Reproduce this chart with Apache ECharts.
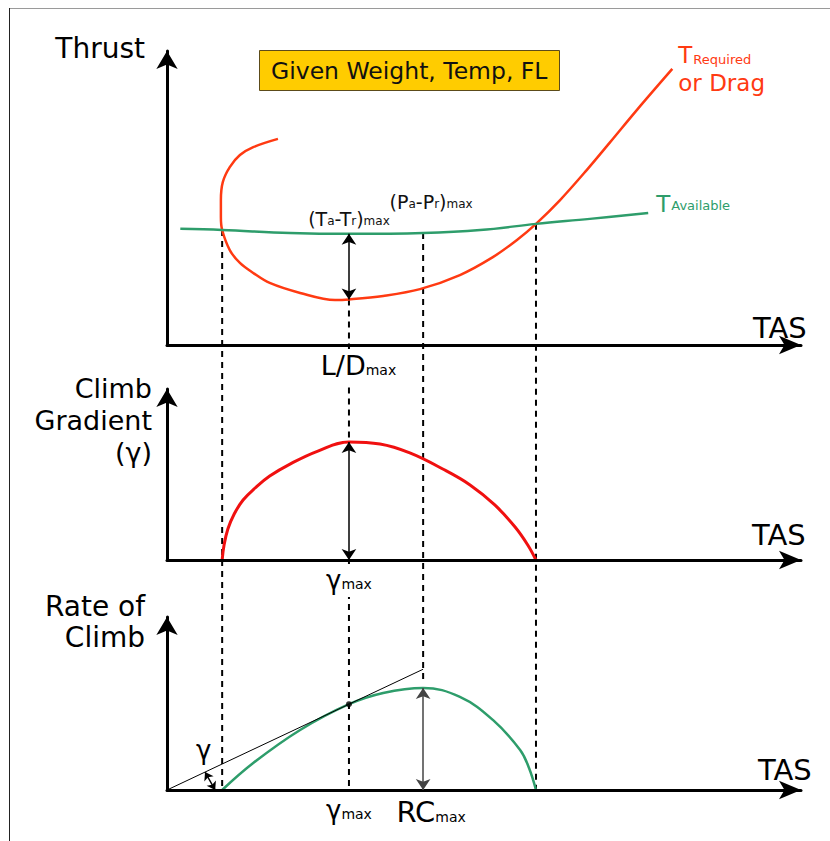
<!DOCTYPE html>
<html>
<head>
<meta charset="utf-8">
<script src="https://cdn.jsdelivr.net/npm/echarts@6/dist/echarts.min.js"></script>
<style>
  html, body { margin: 0; padding: 0; background: #fff; }
  #chart { width: 830px; height: 841px; }
</style>
</head>
<body>
<div id="chart"></div>
<script>
// TAS runs 0-100 across every panel, each panel's y runs 0-100

// panel 1: thrust
const thrustRequired = [
  [17.5, 70.1], [13.6, 67.3], [11.5, 64.6], [9.9, 60.5], [8.8, 55.4], [8.5, 49.3],
  [8.5, 43.5], [8.7, 39.1], [9.9, 32.3], [11.5, 27.9], [13.6, 24.5], [16.2, 21.1],
  [21.0, 17.7], [26.5, 15.3], [28.7, 15.5], [34.1, 16.7], [39.9, 19.0], [46.2, 23.8],
  [51.4, 29.9], [55.2, 35.7], [58.2, 41.2], [62.0, 49.3], [66.2, 59.5], [69.9, 69.0],
  [74.1, 79.9], [79.7, 93.9]
]
const thrustAvailable = [
  [2.1, 39.5], [8.7, 39.1], [19.4, 38.1], [28.7, 37.8], [40.4, 38.1],
  [49.4, 39.1], [58.2, 41.2], [66.7, 42.9], [75.9, 44.9]
]
const arrowTaTr = [[28.7, 37.8], [28.7, 15.5]]

// panel 2: climb gradient
const climbGradient = [
  [8.7, 0], [9.0, 8.8], [9.6, 18.1], [10.6, 26.9], [12.0, 35.1], [13.9, 42.1],
  [16.2, 49.1], [19.4, 56.1], [23.8, 63.7], [28.7, 69.0], [33.6, 67.8], [38.3, 62.6],
  [43.5, 53.2], [47.8, 43.9], [51.7, 32.2], [54.9, 19.3], [56.9, 8.8], [58.2, 0]
]
const arrowGammaMax = [[28.7, 69.0], [28.7, 0]]

// panel 3: rate of climb
const rateOfClimb = [
  [8.7, 0], [13.6, 15.6], [21.0, 34.7], [28.7, 49.6], [34.1, 56.1], [40.4, 59.0],
  [46.2, 53.8], [51.4, 40.5], [55.7, 23.1], [57.1, 12.7], [58.2, 0]
]
const tangentLine = [[0, 0], [40.4, 69.8]]
const tangentPoint = [[28.7, 49.6]]
const arrowRCmax = [[40.4, 59.0], [40.4, 0]]
const gammaArc = [[6.0, 10.4], [7.6, 0]]
const gammaLabelAt = [5.8, 20.2]

// tick labels under the TAS axes
const ticksTop = [28.7]
const ticksMid = [28.7]
const ticksBottom = [28.7, 40.4]
const tickText = {
  top: ['{ld|L/D}{s|max}'],
  mid: ['{g|γ}{s|max}'],
  bottom: ['{g|γ}{s|max}', '{rc|RC}{s|max}']
}

// dashed guides: x, [panel, y] from, [panel, y] to
const guideX = [8.7, 28.7, 28.7, 40.4, 58.2]
const guideFrom = [[0, 39.1], [0, 15.5], [1, 0], [0, 38.1], [0, 41.2]]
const guideTo = [[2, 0], [1, 69.0], [2, 0], [2, 63.6], [2, 0]]

const FONT = 'DejaVu Sans'
const RED = '#ff3a12'
const RED2 = '#f01010'
const GREEN = '#2e9d6b'

const chart = echarts.init(document.getElementById('chart'), null, { renderer: 'svg' })

const subRich = {
  s: { fontSize: 14, verticalAlign: 'bottom', padding: [0, 0, 2, 0], color: '#000' },
  ld: { fontSize: 27, padding: [0, 0, 0, 19], color: '#000' },
  g: { fontSize: 26, color: '#000' },
  rc: { fontSize: 29, padding: [0, 0, 0, 16], color: '#000' }
}

function makeX(i, ticks, texts, nameGap, namePad, margin) {
  return {
    type: 'value', gridIndex: i, min: 0, max: 100, z: 3,
    name: 'TAS', nameLocation: 'end', nameGap: nameGap,
    nameTextStyle: { fontSize: 29, color: '#000', align: 'left', verticalAlign: 'bottom', padding: [0, 0, namePad, 0] },
    axisLine: { show: true, onZero: false, symbol: ['none', 'arrow'], symbolSize: [14, 22], lineStyle: { color: '#000', width: 3 } },
    axisTick: { show: false },
    splitLine: { show: false },
    axisLabel: {
      show: true, customValues: ticks, margin: margin,
      formatter: v => texts[ticks.indexOf(v)] || '',
      backgroundColor: '#fff', padding: [3, 0, 4, 0],
      rich: subRich
    }
  }
}

function makeY(i, name, size, lineHeight, nameGap, padRight) {
  return {
    type: 'value', gridIndex: i, min: 0, max: 100, z: 3,
    name: name, nameLocation: 'end', nameGap: nameGap,
    nameTextStyle: { fontSize: size, lineHeight: lineHeight, color: '#000', align: 'right', verticalAlign: 'middle', padding: [0, padRight, 0, 0] },
    axisLine: { show: true, onZero: false, symbol: ['none', 'arrow'], symbolSize: [16, 18], lineStyle: { color: '#000', width: 3 } },
    axisTick: { show: false },
    axisLabel: { show: false },
    splitLine: { show: false }
  }
}

function arrowLine(pts, color, width, size, curveness) {
  return {
    silent: true, animation: false,
    symbol: ['arrow', 'arrow'], symbolSize: size,
    label: { show: false },
    lineStyle: { color: color, width: width, type: 'solid', curveness: curveness || 0 },
    emphasis: { disabled: true },
    data: [[{ coord: pts[0] }, { coord: pts[1] }]]
  }
}

const option = {
  animation: false,
  backgroundColor: '#fff',
  textStyle: { fontFamily: FONT },
  title: {
    text: 'Given Weight, Temp, FL',
    left: 259, top: 50,
    padding: [8, 12],
    backgroundColor: '#ffcc00',
    borderColor: '#5c4b1a', borderWidth: 1,
    textStyle: { fontFamily: FONT, fontSize: 23.5, fontWeight: 'normal', color: '#111', lineHeight: 25 }
  },
  graphic: [
    { type: 'line', silent: true, shape: { x1: 9, y1: 8.5, x2: 830, y2: 8.5 }, style: { stroke: '#9a9a9a', lineWidth: 1 } },
    { type: 'line', silent: true, shape: { x1: 9.5, y1: 8, x2: 9.5, y2: 841 }, style: { stroke: '#222', lineWidth: 1 } }
  ],
  grid: [
    { left: 167, top: 51, width: 634, height: 294, outerBoundsMode: 'none' },
    { left: 167, top: 389, width: 634, height: 171, outerBoundsMode: 'none' },
    { left: 167, top: 617, width: 634, height: 173, outerBoundsMode: 'none' }
  ],
  xAxis: [
    makeX(0, ticksTop, tickText.top, -48, 3, 4),
    makeX(1, ticksMid, tickText.mid, -49, 11, 4),
    makeX(2, ticksBottom, tickText.bottom, -43, 6, 4)
  ],
  yAxis: [
    makeY(0, 'Thrust', 28, 32, 3, 22),
    makeY(1, 'Climb\nGradient\n(γ)', 27, 32, -31, 15),
    makeY(2, 'Rate of\nClimb', 28, 31, -5, 22)
  ],
  series: [
    {
      name: 'T Required', type: 'line', xAxisIndex: 0, yAxisIndex: 0,
      data: thrustRequired, smooth: 0.35, symbol: 'none', z: 2,
      lineStyle: { color: RED, width: 2.5 },
      endLabel: {
        show: true, distance: 6,
        formatter: '{t|T}{s|Required}\n{d|or Drag}',
        rich: {
          t: { fontSize: 23, lineHeight: 28, color: RED },
          s: { fontSize: 13, verticalAlign: 'bottom', padding: [0, 0, 3, 1], color: RED },
          d: { fontSize: 23, lineHeight: 28, color: RED }
        }
      }
    },
    {
      name: 'T Available', type: 'line', xAxisIndex: 0, yAxisIndex: 0,
      data: thrustAvailable, smooth: 0.4, symbol: 'none', z: 2,
      lineStyle: { color: GREEN, width: 2.5 },
      endLabel: {
        show: true, distance: 8, offset: [0, -9],
        formatter: '{t|T}{s|Available}',
        rich: {
          t: { fontSize: 23, color: GREEN },
          s: { fontSize: 13, verticalAlign: 'bottom', padding: [0, 0, 3, 1], color: GREEN }
        }
      },
      markLine: arrowLine(arrowTaTr, '#000', 1.5, 11),
      markPoint: {
        silent: true, symbolSize: 0,
        label: {
          show: true, color: '#111', fontSize: 19,
          rich: { s: { fontSize: 12, verticalAlign: 'bottom', padding: [0, 0, 2, 0], color: '#111' } }
        },
        data: [
          { coord: arrowTaTr[0], label: { formatter: '(T{s|a}-T{s|r}){s|max}', position: 'top', distance: 5 } },
          { coord: [40.4, 38.1], label: { formatter: '(P{s|a}-P{s|r}){s|max}', position: 'top', distance: 21, offset: [8, 0] } }
        ]
      }
    },
    {
      name: 'Climb Gradient', type: 'line', xAxisIndex: 1, yAxisIndex: 1,
      data: climbGradient, smooth: 0.4, symbol: 'none', z: 2,
      lineStyle: { color: RED2, width: 3 },
      markLine: arrowLine(arrowGammaMax, '#000', 1.5, 11)
    },
    {
      name: 'Rate of Climb', type: 'line', xAxisIndex: 2, yAxisIndex: 2,
      data: rateOfClimb, smooth: 0.4, symbol: 'none', z: 2,
      lineStyle: { color: GREEN, width: 2.5 },
      markLine: arrowLine(arrowRCmax, '#444', 1.5, 11)
    },
    {
      name: 'Tangent', type: 'line', xAxisIndex: 2, yAxisIndex: 2,
      data: tangentLine, symbol: 'none', z: 2,
      lineStyle: { color: '#000', width: 1 },
      markLine: arrowLine(gammaArc, '#000', 1.5, 8, 0.3),
      markPoint: {
        silent: true, symbolSize: 0,
        label: { show: true, color: '#000', fontSize: 26, position: 'inside', offset: [0, -5], formatter: 'γ' },
        data: [{ coord: gammaLabelAt }]
      }
    },
    {
      name: 'Tangent point', type: 'scatter', xAxisIndex: 2, yAxisIndex: 2,
      data: tangentPoint, symbolSize: 6, z: 3,
      itemStyle: { color: '#000' }
    }
  ]
}

chart.setOption(option)

// dashed guides run through all three panels, drawn in panel 3 units
const guides = guideX.map((x, i) => {
  const a = chart.convertToPixel({ gridIndex: guideFrom[i][0] }, [x, guideFrom[i][1]])
  const b = chart.convertToPixel({ gridIndex: guideTo[i][0] }, [x, guideTo[i][1]])
  return {
    type: 'line', xAxisIndex: 2, yAxisIndex: 2, clip: false, z: 1, silent: true,
    symbol: 'none',
    lineStyle: { color: '#000', width: 2, type: [6, 5] },
    data: [chart.convertFromPixel({ gridIndex: 2 }, a), chart.convertFromPixel({ gridIndex: 2 }, b)]
  }
})
option.series = option.series.concat(guides)
chart.setOption(option, true)
</script>
</body>
</html>
